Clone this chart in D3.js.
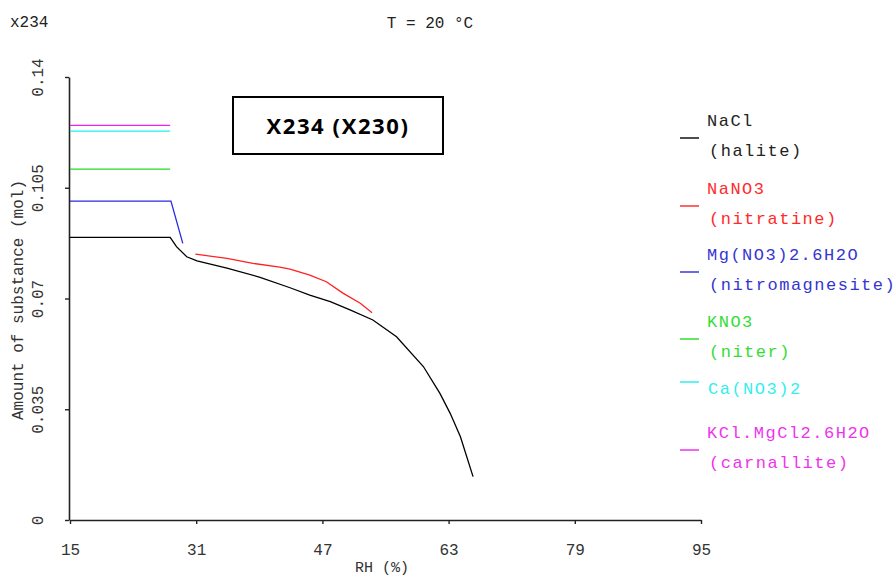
<!DOCTYPE html>
<html>
<head>
<meta charset="utf-8">
<script src="https://cdn.jsdelivr.net/npm/d3@7"></script>
<style>
  html, body { margin: 0; padding: 0; background: #fff; }
  svg { display: block; }
  .mono { font-family: "Courier New", "Liberation Mono", monospace; }
</style>
</head>
<body>
<svg id="chart" width="896" height="578"></svg>
<script>
// Relative humidity (%) and amount of solid phase (mol) at 20 °C
const xTicks = [15, 31, 47, 63, 79, 95];
const yTicks = [0, 0.035, 0.07, 0.105, 0.14];
const yTickLabels = ["0", "0.035", "0.07", "0.105", "0.14"];

const naclRH  = [15, 27.7, 28.5, 29.8, 31.1, 34.9, 39.1, 42.9, 45.4, 48.0, 50.5, 53.4, 56.4, 59.8, 61.9, 63.2, 64.5, 66.1];
const naclMol = [0.0893, 0.0893, 0.0864, 0.0832, 0.0819, 0.0796, 0.0767, 0.0734, 0.0711, 0.0690, 0.0664, 0.0632, 0.0579, 0.0485, 0.0400, 0.0337, 0.0263, 0.0137];

const nano3RH  = [30.9, 34.9, 38.2, 41.6, 42.9, 45.4, 47.5, 49.6, 51.8, 53.3];
const nano3Mol = [0.0840, 0.0827, 0.0811, 0.0799, 0.0793, 0.0774, 0.0753, 0.0717, 0.0685, 0.0655];

const mgRH  = [15, 27.8, 29.3];
const mgMol = [0.1008, 0.1008, 0.0874];

const kno3RH  = [15, 27.7];
const kno3Mol = [0.1109, 0.1109];

const caRH  = [15, 27.7];
const caMol = [0.1229, 0.1229];

const carnRH  = [15, 27.7];
const carnMol = [0.1247, 0.1247];

const seriesNames  = ["NaCl", "NaNO3", "Mg(NO3)2.6H2O", "KNO3", "Ca(NO3)2", "KCl.MgCl2.6H2O"];
const seriesMinerals = ["(halite)", "(nitratine)", "(nitromagnesite)", "(niter)", "", "(carnallite)"];
const seriesColors = ["#000000", "#ff2020", "#2a2ae0", "#22dd22", "#22eeee", "#ee22ee"];
const seriesTextColors = ["#222222", "#ff2a2a", "#3535d0", "#33dd33", "#33eeee", "#ee33ee"];

const series = [
  { rh: naclRH, mol: naclMol },
  { rh: nano3RH, mol: nano3Mol },
  { rh: mgRH, mol: mgMol },
  { rh: kno3RH, mol: kno3Mol },
  { rh: caRH, mol: caMol },
  { rh: carnRH, mol: carnMol }
];

const svg = d3.select("#chart");

const x = d3.scaleLinear().domain([15, 95]).range([70, 701]);
const y = d3.scaleLinear().domain([0, 0.14]).range([520, 77]);

// axes
const xAxis = svg.append("g")
  .attr("transform", `translate(0,${y(0)})`)
  .call(d3.axisBottom(x).tickValues(xTicks).tickSize(4).tickSizeOuter(0).tickPadding(20));
const yAxis = svg.append("g")
  .attr("transform", `translate(${x(15) - 1},0)`)
  .call(d3.axisLeft(y).tickValues(yTicks).tickSize(4).tickSizeOuter(0)
    .tickFormat((d, i) => yTickLabels[i]));

[xAxis, yAxis].forEach(g => {
  g.select(".domain").attr("stroke", "#222").attr("stroke-width", 1.6);
  g.selectAll(".tick line").attr("stroke", "#222").attr("stroke-width", 1.4);
  g.selectAll("text").attr("class", "mono").attr("font-size", 16).attr("fill", "#333");
});
xAxis.selectAll("text").attr("dy", "0.71em");
yAxis.selectAll(".tick text")
  .attr("x", null).attr("dy", null)
  .attr("text-anchor", "middle")
  .attr("transform", "translate(-31,0) rotate(-90)")
  .attr("dy", "0.32em");

// axis titles
svg.append("text").attr("class", "mono")
  .attr("x", 382).attr("y", 572)
  .attr("text-anchor", "middle").attr("font-size", 15).attr("fill", "#333")
  .text("RH (%)");
svg.append("text").attr("class", "mono")
  .attr("transform", "translate(18,300) rotate(-90)")
  .attr("text-anchor", "middle").attr("dy", "0.32em").attr("font-size", 16).attr("fill", "#333")
  .text("Amount of substance (mol)");

svg.append("text").attr("class", "mono")
  .attr("x", 10).attr("y", 27).attr("font-size", 16).attr("fill", "#222")
  .text("x234");
svg.append("text").attr("class", "mono")
  .attr("x", 430).attr("y", 28).attr("text-anchor", "middle").attr("font-size", 16).attr("fill", "#222")
  .text("T = 20 °C");

// data lines
const line = d3.line().x(d => x(d[0])).y(d => y(d[1]));
series.forEach((s, i) => {
  svg.append("path")
    .datum(s.rh.map((r, k) => [r, s.mol[k]]))
    .attr("fill", "none")
    .attr("stroke", seriesColors[i])
    .attr("stroke-width", 1.3)
    .attr("d", line);
});

// labelled box
svg.append("rect")
  .attr("x", 233).attr("y", 97).attr("width", 210).attr("height", 57)
  .attr("fill", "#fff").attr("stroke", "#000").attr("stroke-width", 2);
svg.append("text")
  .attr("x", 338).attr("y", 126)
  .attr("text-anchor", "middle").attr("dy", "0.35em")
  .attr("font-family", "'Open Sans', 'Liberation Sans', sans-serif")
  .attr("font-weight", "bold").attr("font-size", 22).attr("letter-spacing", 1.6).attr("fill", "#000")
  .text("X234 (X230)");

// legend
const legendLineY = [138, 206, 272, 339, 382, 450];
const legend = svg.append("g");
seriesNames.forEach((name, i) => {
  const ly = legendLineY[i];
  legend.append("line")
    .attr("x1", 680).attr("x2", 699).attr("y1", ly).attr("y2", ly)
    .attr("stroke", seriesColors[i]).attr("stroke-width", 1.4);
  const t = legend.append("text").attr("class", "mono")
    .attr("font-size", 17).attr("letter-spacing", 1.5).attr("fill", seriesTextColors[i]);
  if (seriesMinerals[i]) {
    t.append("tspan").attr("x", 707).attr("y", ly - 18).attr("dy", "0.35em").text(name);
    t.append("tspan").attr("x", 709).attr("y", ly + 12).attr("dy", "0.35em").text(seriesMinerals[i]);
  } else {
    t.append("tspan").attr("x", 708).attr("y", ly + 6).attr("dy", "0.35em").text(name);
  }
});
</script>
</body>
</html>
